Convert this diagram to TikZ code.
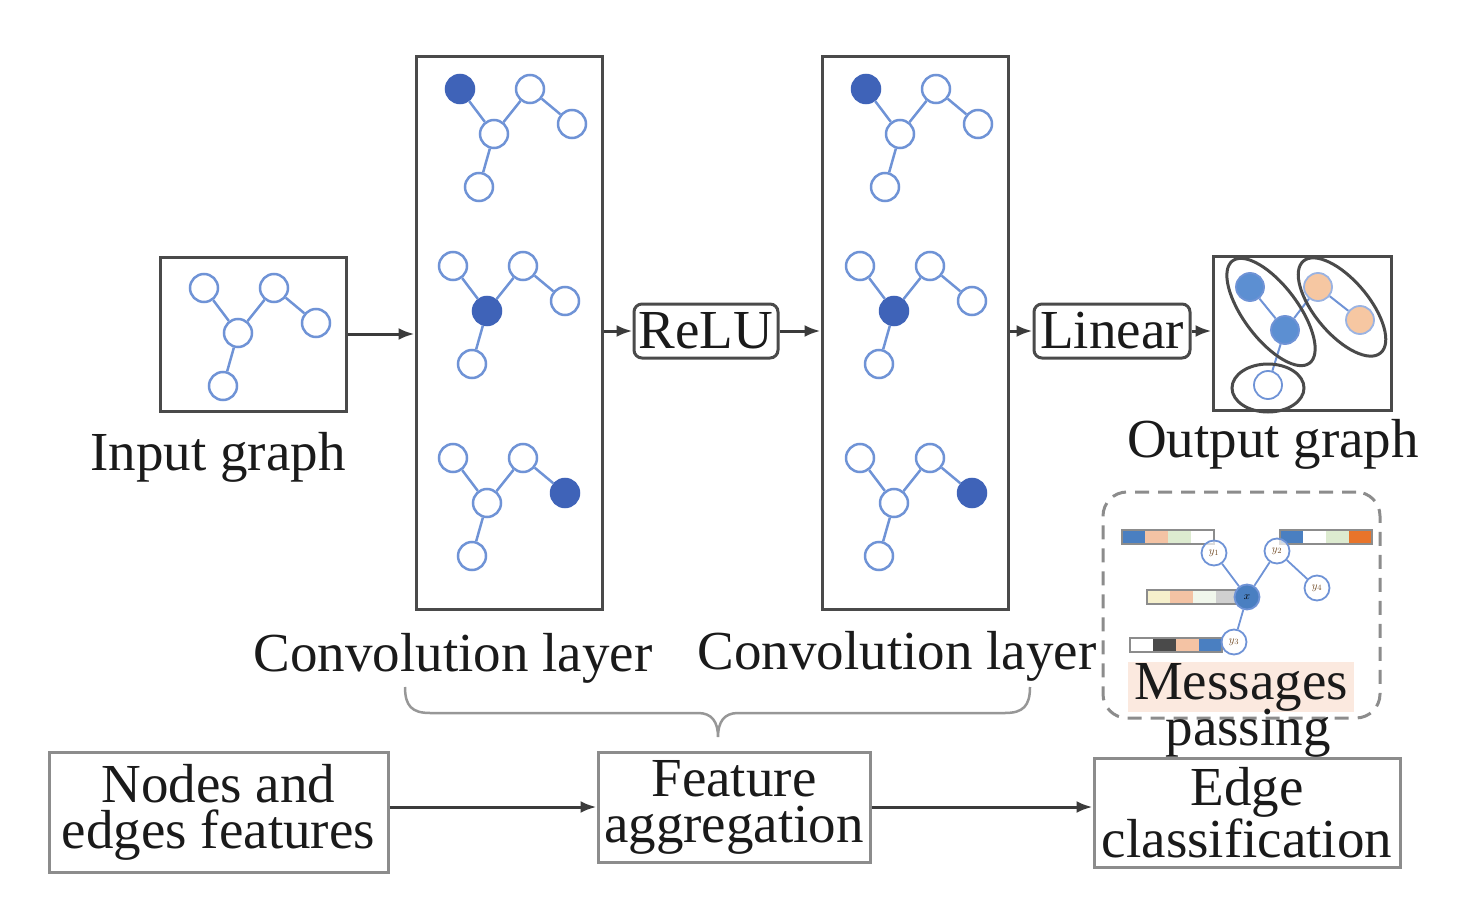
\documentclass[tikz,border=0pt]{standalone}
\usepackage{fontspec}
\setmainfont{Liberation Serif}
\usetikzlibrary{arrows.meta,shapes.geometric,calc}
\definecolor{txt}{HTML}{1A1A1A}
\definecolor{boxgray}{HTML}{4A4A4A}
\definecolor{lightgray}{HTML}{8C8C8C}
\definecolor{nodeblue}{HTML}{6F93D6}
\definecolor{fillblue}{HTML}{3F63B8}
\definecolor{outblue}{HTML}{5C8FD2}
\definecolor{outorange}{HTML}{F6C7A2}
\definecolor{cblue}{HTML}{4A7FC1}
\definecolor{cpeach}{HTML}{F4C3A4}
\definecolor{cgreen}{HTML}{DDEBD0}
\definecolor{corange}{HTML}{E8742A}
\definecolor{cyellow}{HTML}{F6F0CC}
\definecolor{cgray}{HTML}{D0D0D0}
\definecolor{cdark}{HTML}{4A4A4A}
\definecolor{msgbg}{HTML}{FBE9DF}
\newcommand{\gnngraph}[5]{%
  \begin{scope}[shift={#2}]
    \node[#4] (#1c) at (0,0) {};
    \node[#3] (#1tl) at (-34,-45) {};
    \node[gv] (#1tr) at (36,-45) {};
    \node[#5] (#1r) at (78,-10) {};
    \node[gv] (#1b) at (-15,53) {};
    \draw[ge] (#1tl) -- (#1c) (#1c) -- (#1tr) (#1tr) -- (#1r) (#1c) -- (#1b);
  \end{scope}}
\newcommand{\mpbar}[6]{%
  \foreach \cc [count=\ii from 0] in {#3,#4,#5,#6} {\fill[\cc] (#1+\ii*23,#2-7) rectangle ++(23,14);}
  \draw[draw=lightgray,line width=1.5pt] (#1,#2-7) rectangle ++(92,14);}
\begin{document}
\begin{tikzpicture}[x=1pt,y=-1pt,
  every node/.style={text=txt},
  big/.style={font=\fontsize{55}{46}\selectfont},
  frame/.style={draw=boxgray,line width=3pt,inner sep=0pt},
  pbox/.style={draw=lightgray,line width=3pt,inner sep=2pt,align=center,font=\fontsize{55}{46}\selectfont},
  opbox/.style={draw=boxgray,line width=3pt,rounded corners=8pt,inner sep=0pt,font=\fontsize{55}{46}\selectfont},
  gv/.style={circle,draw=nodeblue,line width=2.5pt,fill=white,minimum size=28pt,inner sep=0pt},
  gvf/.style={gv,fill=fillblue,draw=fillblue},
  ge/.style={draw=nodeblue,line width=2.5pt},
  arr/.style={draw=boxgray!80!black,line width=3pt,-{Latex[length=16pt,width=12pt]}},
  ov/.style={circle,line width=1.8pt,minimum size=28pt,inner sep=0pt},
  oell/.style={ellipse,draw=boxgray,line width=3pt,inner sep=0pt},
  mpv/.style={circle,draw=nodeblue,line width=1.8pt,fill=white,fill opacity=0.7,text opacity=1,minimum size=25pt,inner sep=0pt,font=\fontsize{11}{11}\selectfont,text=brown!60!black},
]
\useasboundingbox (0,0) rectangle (1467,904);

% ---- input graph
\node[frame,minimum width=186pt,minimum height=154pt] (inbox) at (253,334) {};
\gnngraph{in}{(238,333)}{gv}{gv}{gv}
\node[big,anchor=base] (inlab) at (218,470) {Input graph};

% ---- convolution layer 1
\node[frame,minimum width=186pt,minimum height=552pt] (conv1) at (509,333) {};
\gnngraph{ca}{(494,134)}{gvf}{gv}{gv}
\gnngraph{cb}{(487,311)}{gv}{gvf}{gv}
\gnngraph{cc}{(487,503)}{gv}{gv}{gvf}
\node[big,anchor=base] (c1lab) at (453,671) {Convolution layer};

% ---- ReLU
\node[opbox,minimum width=144pt,minimum height=54pt] (relu) at (706,331) {ReLU};

% ---- convolution layer 2
\node[frame,minimum width=186pt,minimum height=552pt] (conv2) at (915,333) {};
\gnngraph{da}{(900,134)}{gvf}{gv}{gv}
\gnngraph{db}{(894,311)}{gv}{gvf}{gv}
\gnngraph{dc}{(894,503)}{gv}{gv}{gvf}
\node[big,anchor=base] (c2lab) at (897,669) {Convolution layer};

% ---- Linear
\node[opbox,minimum width=156pt,minimum height=54pt] (lin) at (1112,331) {Linear};

% ---- output graph
\node[frame,minimum width=178pt,minimum height=154pt] (outbox) at (1302,333) {};
\node[ov,fill=outblue,draw=nodeblue] (ob1) at (1250,287) {};
\node[ov,fill=outblue,draw=nodeblue] (ob2) at (1285,330) {};
\node[ov,fill=outorange,draw=nodeblue!70] (oo1) at (1318,287) {};
\node[ov,fill=outorange,draw=nodeblue!70] (oo2) at (1360,320) {};
\node[ov,fill=white,draw=nodeblue] (ow) at (1268,385) {};
\draw[ge,line width=2pt] (ob1) -- (ob2) (ob2) -- (oo1) (oo1) -- (oo2) (ob2) -- (ow);
\node[oell,minimum width=128pt,minimum height=54pt,rotate=-53] (e1) at (1271,312) {};
\node[oell,minimum width=120pt,minimum height=54pt,rotate=-50] (e2) at (1342,307) {};
\node[oell,minimum width=72pt,minimum height=48pt] (e3) at (1268,388) {};
\node[big,anchor=base] (outlab) at (1273,457) {Output graph};

% ---- arrows of the upper row
\draw[arr] (inbox.east) -- (conv1.west |- inbox.east);
\draw[arr] (conv1.east |- relu.west) -- (relu.west);
\draw[arr] (relu.east) -- (conv2.west |- relu.east);
\draw[arr] (conv2.east |- lin.west) -- (lin.west);
\draw[arr] (lin.east) -- (outbox.west |- lin.east);

% ---- brace
\draw[draw=lightgray!90,line width=2.5pt]
  (405,687) .. controls (405,706) and (412,713) .. (430,713) -- (698,713)
  .. controls (712,713) and (718,722) .. (718,737)
  .. controls (718,722) and (724,713) .. (738,713) -- (1005,713)
  .. controls (1023,713) and (1030,706) .. (1030,687);

% ---- message passing
\node[draw=lightgray,dashed,dash pattern=on 14pt off 9pt,line width=3pt,rounded corners=24pt,minimum width=277pt,minimum height=226pt,inner sep=0pt] (mpbox) at (1241.5,605) {};
\mpbar{1122}{537}{cblue}{cpeach}{cgreen}{white}
\mpbar{1280}{537}{cblue}{white}{cgreen}{corange}
\mpbar{1147}{597}{cyellow}{cpeach}{cgreen!40}{cgray}
\mpbar{1130}{645}{white}{cdark}{cpeach}{cblue}
\node[mpv] (my1) at (1214,553) {$y_1$};
\node[mpv] (my2) at (1277,551) {$y_2$};
\node[mpv] (my4) at (1317,588) {$y_4$};
\node[mpv] (my3) at (1234,642) {$y_3$};
\node[mpv,fill=cblue,fill opacity=1,text=black] (mx) at (1247,597) {$x$};
\draw[ge,line width=1.8pt] (my1) -- (mx) (my2) -- (mx) (my2) -- (my4) (mx) -- (my3);
\node[big,fill=msgbg,inner sep=1pt,anchor=base,minimum width=226pt] (msg) at (1241,699) {Messages};
\node[big,anchor=base] (pass) at (1248,745) {passing};

% ---- bottom row
\node[pbox,minimum width=339pt,minimum height=120pt] (nef) at (218.5,812) {Nodes and\\edges features};
\node[pbox,minimum width=272pt,minimum height=110pt] (fa) at (734,807) {Feature\\aggregation};
\node[pbox,minimum width=306pt,minimum height=109pt] (ec) at (1247,812.5) {Edge\\classification};
\draw[arr] (nef.east |- fa.west) -- (fa.west);
\draw[arr] (fa.east) -- (ec.west |- fa.east);
\end{tikzpicture}
\end{document}
